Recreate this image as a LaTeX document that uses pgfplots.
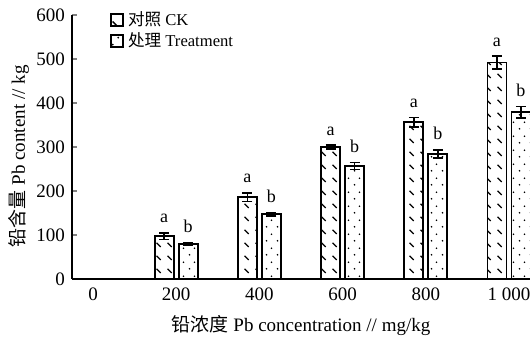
\documentclass[border=0pt]{standalone}
\usepackage{pgfplots}
\pgfplotsset{compat=1.18}
\usepackage{fontspec}
\setmainfont{Liberation Serif}
\newfontfamily\cjk{Noto Sans CJK SC}
\usetikzlibrary{patterns}
\pgfdeclarepatternformonly{ckdash}{\pgfqpoint{0pt}{0pt}}{\pgfqpoint{5.5pt}{6.5pt}}{\pgfqpoint{5.5pt}{6.5pt}}{%
  \pgfsetlinewidth{0.7pt}%
  \pgfpathmoveto{\pgfqpoint{1.4pt}{4.4pt}}%
  \pgfpathlineto{\pgfqpoint{3.6pt}{2.2pt}}%
  \pgfusepath{stroke}}
\pgfdeclarepatternformonly{tdots}{\pgfqpoint{0pt}{0pt}}{\pgfqpoint{5.5pt}{7pt}}{\pgfqpoint{5.5pt}{7pt}}{%
  \pgfpathcircle{\pgfqpoint{1.4pt}{1.7pt}}{0.5pt}%
  \pgfpathcircle{\pgfqpoint{4.1pt}{5.2pt}}{0.5pt}%
  \pgfusepath{fill}}
\pgfplotstableread{
x y e lab
1 97  7  a
2 186 10 a
3 300 4  a
4 356 11 a
5 492 14 a
}\ck
\pgfplotstableread{
x y e lab
1 79  3  b
2 147 4  b
3 257 8  b
4 284 9  b
5 379 13 b
}\tr
\pgfplotstableread{
x t lab
1 104 a
2 196 a
3 304 a
4 367 a
5 506 a
}\cklab
\pgfplotstableread{
x t lab
1 82  b
2 151 b
3 265 b
4 293 b
5 392 b
}\trlab
\begin{document}
\begin{tikzpicture}
\useasboundingbox (-36pt,-31.5pt) rectangle (229pt,139.5pt);
\begin{axis}[
  at={(0,0)}, anchor=south west,
  scale only axis, width=229pt, height=132pt,
  ybar, bar width=9.5pt,
  xmin=-0.253, xmax=5.253, ymin=0, ymax=600,
  axis x line*=bottom, axis y line*=left,
  axis line style={-, line width=0.9pt},
  xtick={0,1,2,3,4,5},
  xticklabels={0,200,400,600,800,1 000},
  xtick style={draw=none},
  ytick={0,100,...,600},
  ytick style={line width=0.9pt},
  tick align=inside, major tick length=2.5pt,
  /pgf/number format/assume math mode=true,
  ticklabel style={font=\fontsize{9.5}{11}\selectfont},
  xticklabel style={yshift=-1pt},
  xlabel={{\cjk 铅浓度} Pb concentration // mg/kg},
  ylabel={{\cjk 铅含量} Pb content // kg},
  label style={font=\fontsize{9.5}{11}\selectfont},
  xlabel style={at={(axis description cs:0.5,-0.178)}, anchor=center},
  ylabel style={at={(axis description cs:-0.116,0.465)}, anchor=center, rotate=0},
  legend style={at={(rel axis cs:0.07,1.045)}, anchor=north west, draw=none, fill=none,
    font=\fontsize{8.3}{9}\selectfont, row sep=-2pt, cells={anchor=west}},
  legend image code/.code={\draw[#1, line width=0.8pt] (0pt,-3pt) rectangle (6pt,3pt);},
  nodes near coords style={font=\fontsize{9}{10}\selectfont, anchor=south, yshift=1.5pt},
]
\addplot[draw=black, line width=0.9pt, pattern=ckdash, bar shift=-6pt,
  error bars/.cd, y dir=both, y explicit,
  error bar style={line width=0.9pt, solid},
  error mark options={rotate=90, mark size=2.5pt, line width=0.9pt}]
  table[x=x, y=y, y error=e] {\ck};
\addlegendentry{{\cjk 对照} CK}
\addplot[draw=black, line width=0.9pt, pattern=tdots, bar shift=6pt,
  error bars/.cd, y dir=both, y explicit,
  error bar style={line width=0.9pt, solid},
  error mark options={rotate=90, mark size=2.5pt, line width=0.9pt}]
  table[x=x, y=y, y error=e] {\tr};
\addlegendentry{{\cjk 处理} Treatment}
\addplot[forget plot, draw=none, fill=none, bar shift=-6pt,
  nodes near coords, point meta=explicit symbolic]
  table[x=x, y=t, meta=lab] {\cklab};
\addplot[forget plot, draw=none, fill=none, bar shift=6pt,
  nodes near coords, point meta=explicit symbolic]
  table[x=x, y=t, meta=lab] {\trlab};
\end{axis}
\end{tikzpicture}
\end{document}
